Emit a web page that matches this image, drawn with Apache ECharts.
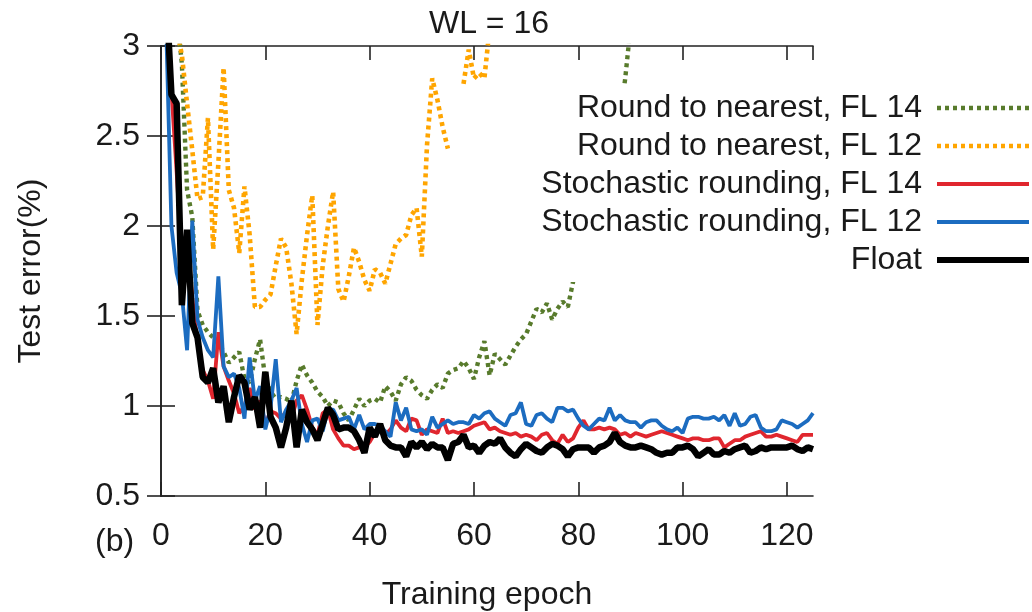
<!DOCTYPE html>
<html>
<head>
<meta charset="utf-8">
<script src="https://cdn.jsdelivr.net/npm/echarts@6/dist/echarts.min.js"></script>
<style>
html,body{margin:0;padding:0;background:#fff;}
#chart{width:1032px;height:612px;}
</style>
</head>
<body>
<div id="chart"></div>
<script>
// ---- data ----
const firstEpoch = 1;
const seriesNames = [
  'Round to nearest, FL 14',
  'Round to nearest, FL 12',
  'Stochastic rounding, FL 14',
  'Stochastic rounding, FL 12',
  'Float'
];
const xTicks = [0, 20, 40, 60, 80, 100, 120];
const yTicks = [0.5, 1, 1.5, 2, 2.5, 3];

const rtnFL14 = [3.5, 3.4, 3.2, 2.9, 2.2, 2.05, 1.53, 1.45, 1.41, 1.38,
  1.35, 1.30, 1.24, 1.27, 1.30, 1.15, 1.13, 1.26, 1.37, 1.15,
  1.08, 1.04, 1.05, 1.04, 1.02, 1.14, 1.23, 1.17, 1.13, 1.08,
  1.05, 1.00, 1.03, 1.02, 0.96, 0.92, 0.98, 1.04, 1.00, 1.03,
  1.04, 1.02, 1.11, 1.08, 1.03, 1.12, 1.16, 1.14, 1.09, 1.06,
  1.04, 1.09, 1.12, 1.10, 1.18, 1.20, 1.21, 1.25, 1.21, 1.15,
  1.27, 1.36, 1.17, 1.29, 1.26, 1.23, 1.28, 1.33, 1.37, 1.40,
  1.47, 1.54, 1.52, 1.57, 1.48, 1.54, 1.58, 1.55, 1.69, 1.78,
  1.86, 1.95, 2.02, 2.12, 2.25, 2.33, 2.45, 2.60, 2.82, 3.10];

const rtnFL12 = [3.6, 3.4, 3.1, 2.95, 2.68, 2.42, 2.15, 2.16, 2.6, 1.87,
  2.35, 2.88, 2.2, 2.1, 1.85, 2.22, 1.95, 1.55, 1.55, 1.59,
  1.62, 1.78, 1.93, 1.88, 1.68, 1.4, 1.7, 1.95, 2.17, 1.45,
  1.78, 2.0, 2.19, 1.65, 1.58, 1.72, 1.88, 1.80, 1.70, 1.64,
  1.76, 1.74, 1.68, 1.79, 1.90, 1.93, 1.95, 2.06, 2.10, 1.83,
  2.45, 2.82, 2.70, 2.55, 2.43, null, null, 2.79, 2.98, 2.82,
  2.85, 2.82, 3.1, 3.3];

const srFL14 = [3.3, 2.75, 2.3, 1.8, 1.93, 1.6, 1.35, 1.2, 1.14, 1.04,
  1.41, 1.22, 1.14, 1.07, 0.96, 1.0, 1.10, 0.98, 1.03, 0.90,
  0.97, 0.96, 0.93, 0.97, 0.93, 1.03, 1.06, 0.98, 0.88, 0.84,
  0.96, 0.98, 0.87, 0.82, 0.78, 0.78, 0.76, 0.77, 0.77, 0.80,
  0.85, 0.88, 0.84, 0.87, 0.92, 0.88, 0.86, 0.93, 0.92, 0.84,
  0.87, 0.86, 0.85, 0.93, 0.85, 0.86, 0.85, 0.86, 0.87, 0.89,
  0.90, 0.91, 0.87, 0.88, 0.86, 0.85, 0.84, 0.85, 0.83, 0.84,
  0.83, 0.81, 0.84, 0.85, 0.81, 0.79, 0.84, 0.80, 0.82, 0.88,
  0.92, 0.87, 0.87, 0.88, 0.87, 0.88, 0.87, 0.84, 0.85, 0.83,
  0.85, 0.84, 0.83, 0.84, 0.85, 0.86, 0.85, 0.84, 0.83, 0.82,
  0.81, 0.82, 0.82, 0.81, 0.81, 0.82, 0.82, 0.77, 0.79, 0.81,
  0.81, 0.83, 0.84, 0.85, 0.86, 0.83, 0.83, 0.84, 0.83, 0.82,
  0.81, 0.80, 0.84, 0.84, 0.84];

const srFL12 = [3.1, 2.0, 1.74, 1.62, 1.31, 2.03, 1.48, 1.38, 1.31, 1.27,
  1.72, 1.22, 1.16, 1.18, 1.10, 0.93, 1.27, 1.03, 1.11, 0.87,
  0.99, 1.26, 0.91, 0.98, 1.03, 1.10, 0.90, 0.80, 0.92, 0.93,
  0.86, 0.98, 0.98, 0.92, 0.93, 0.94, 0.87, 0.95, 0.87, 0.90,
  0.90, 0.89, 0.86, 0.83, 1.02, 0.92, 0.99, 0.87, 0.86, 0.87,
  0.84, 0.94, 0.88, 0.90, 0.92, 0.90, 0.91, 0.91, 0.90, 0.95,
  0.93, 0.96, 0.97, 0.93, 0.91, 0.89, 0.95, 0.96, 1.02, 0.90,
  0.89, 0.95, 0.96, 0.93, 0.91, 0.99, 0.99, 0.97, 0.98, 0.93,
  0.89, 0.87, 0.90, 0.93, 0.92, 0.99, 0.92, 0.95, 0.92, 0.91,
  0.91, 0.88, 0.91, 0.92, 0.92, 0.89, 0.87, 0.86, 0.88, 0.85,
  0.93, 0.94, 0.94, 0.93, 0.93, 0.94, 0.92, 0.95, 0.89, 0.96,
  0.89, 0.90, 0.94, 0.95, 0.88, 0.86, 0.86, 0.87, 0.92, 0.91,
  0.90, 0.88, 0.90, 0.92, 0.96];

const floatErr = [3.3, 2.73, 2.68, 1.56, 1.98, 1.46, 1.38, 1.16, 1.13, 1.21,
  1.02, 1.11, 0.91, 1.05, 1.17, 1.13, 0.98, 1.05, 0.88, 1.19,
  0.94, 0.88, 0.77, 0.88, 1.03, 0.77, 0.98, 0.91, 0.87, 0.81,
  0.90, 0.99, 0.95, 0.87, 0.88, 0.88, 0.86, 0.81, 0.74, 0.88,
  0.83, 0.90, 0.81, 0.78, 0.77, 0.77, 0.72, 0.80, 0.77, 0.80,
  0.76, 0.79, 0.77, 0.77, 0.70, 0.79, 0.80, 0.84, 0.77, 0.78,
  0.74, 0.78, 0.80, 0.79, 0.82, 0.77, 0.74, 0.72, 0.76, 0.79,
  0.77, 0.75, 0.74, 0.77, 0.79, 0.78, 0.76, 0.72, 0.76, 0.77,
  0.77, 0.77, 0.74, 0.77, 0.78, 0.80, 0.85, 0.80, 0.78, 0.77,
  0.77, 0.78, 0.77, 0.76, 0.74, 0.73, 0.74, 0.74, 0.77, 0.77,
  0.78, 0.76, 0.72, 0.74, 0.76, 0.73, 0.73, 0.75, 0.74, 0.76,
  0.77, 0.78, 0.74, 0.75, 0.77, 0.76, 0.77, 0.77, 0.77, 0.77,
  0.78, 0.76, 0.75, 0.77, 0.76];

// ---- chart ----
const FONT = "'Liberation Sans', Arial, sans-serif";
const TXT = '#1a1a1a';
const FS = 32;
const colors = ['#587b2c', '#ffa500', '#e0262e', '#1c6cc0', '#000000'];
const widths = [4.4, 4.6, 3.8, 3.8, 6.5];
const dashes = [[4, 4], [4, 4], 'solid', 'solid', 'solid'];

function pairs(vals) {
  return vals.map((v, i) => [firstEpoch + i, v]);
}

const chart = echarts.init(document.getElementById('chart'), null, {renderer: 'canvas'});

const axisLine = {show: true, lineStyle: {color: '#222', width: 1.6}};
const tick = {show: true, inside: true, length: 14, lineStyle: {color: '#222', width: 1.6}};

const allData = [rtnFL14, rtnFL12, srFL14, srFL12, floatErr];

const option = {
  animation: false,
  backgroundColor: '#fff',
  textStyle: {fontFamily: FONT},
  title: {
    text: 'WL = 16',
    left: 489, top: 8, padding: 0,
    textAlign: 'center',
    textStyle: {fontFamily: FONT, fontSize: FS, fontWeight: 'normal', color: TXT}
  },
  grid: {left: 161, right: 219, top: 46, bottom: 116, containLabel: false, outerBoundsMode: 'none'},
  legend: {
    orient: 'vertical',
    right: 0, top: 86,
    align: 'right',
    padding: [6, 0, 6, 0],
    backgroundColor: '#fff',
    itemWidth: 92, itemHeight: 20, itemGap: 6,
    selectedMode: false,
    itemStyle: {opacity: 0, borderWidth: 0},
    data: seriesNames.map((n, i) => ({
      name: n,
      lineStyle: {width: Math.min(widths[i], 6), color: colors[i], type: dashes[i]}
    })),
    textStyle: {fontFamily: FONT, fontSize: FS, color: TXT, width: 392, align: 'right',
      lineHeight: 20, padding: [0, 10, 0, 0]}
  },
  xAxis: [{
    type: 'value', min: 0, max: 125, interval: 20, position: 'bottom',
    name: 'Training epoch', nameLocation: 'middle', nameGap: 83,
    nameTextStyle: {fontFamily: FONT, fontSize: FS, color: TXT},
    axisLine: axisLine, axisTick: tick, splitLine: {show: false},
    axisLabel: {show: true, margin: 24, fontFamily: FONT, fontSize: FS, color: TXT,
      showMaxLabel: false,
      formatter: v => (xTicks.indexOf(v) >= 0 ? String(v) : '')}
  }, {
    type: 'value', min: 0, max: 125, interval: 20, position: 'top',
    axisLine: axisLine, axisTick: tick, splitLine: {show: false},
    axisLabel: {show: false}
  }],
  yAxis: [{
    type: 'value', min: 0.5, max: 3, interval: 0.5, position: 'left',
    name: 'Test error(%)', nameLocation: 'middle', nameGap: 114, nameRotate: 90,
    nameTextStyle: {fontFamily: FONT, fontSize: FS, color: TXT},
    axisLine: axisLine, axisTick: tick, splitLine: {show: false},
    axisLabel: {show: true, margin: 21, fontFamily: FONT, fontSize: FS, color: TXT,
      formatter: v => (yTicks.indexOf(v) >= 0 ? String(v) : '')}
  }, {
    type: 'value', min: 0.5, max: 3, interval: 0.5, position: 'right',
    axisLine: axisLine, axisTick: tick, splitLine: {show: false},
    axisLabel: {show: false}
  }],
  graphic: [{
    type: 'text', left: 95, top: 526,
    style: {text: '(b)', fontFamily: FONT, fontSize: FS, fill: TXT}
  }],
  series: seriesNames.map((n, i) => ({
    name: n, type: 'line', data: pairs(allData[i]), symbol: 'none', clip: true,
    connectNulls: false,
    lineStyle: {color: colors[i], width: widths[i], type: dashes[i]},
    itemStyle: {color: colors[i]},
    z: i < 2 ? 2 : 3
  }))
};
chart.setOption(option);
</script>
</body>
</html>
